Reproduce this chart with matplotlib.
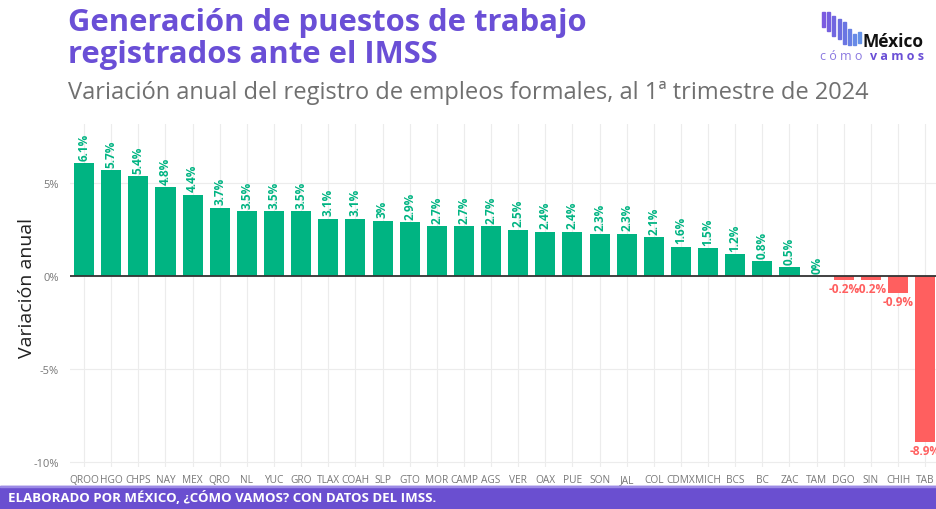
import matplotlib
matplotlib.use("Agg")
import matplotlib.pyplot as plt
from matplotlib.patches import Rectangle
from matplotlib.ticker import FuncFormatter

states = ["QROO", "HGO", "CHPS", "NAY", "MEX", "QRO", "NL", "YUC", "GRO", "TLAX",
          "COAH", "SLP", "GTO", "MOR", "CAMP", "AGS", "VER", "OAX", "PUE", "SON",
          "JAL", "COL", "CDMX", "MICH", "BCS", "BC", "ZAC", "TAM", "DGO", "SIN",
          "CHIH", "TAB"]
values = [6.1, 5.7, 5.4, 4.8, 4.4, 3.7, 3.5, 3.5, 3.5, 3.1,
          3.1, 3.0, 2.9, 2.7, 2.7, 2.7, 2.5, 2.4, 2.4, 2.3,
          2.3, 2.1, 1.6, 1.5, 1.2, 0.8, 0.5, 0.0, -0.2, -0.2,
          -0.9, -8.9]
yticks = [-10, -5, 0, 5]

title = "Generación de puestos de trabajo\nregistrados ante el IMSS"
subtitle = "Variación anual del registro de empleos formales, al 1ª trimestre de 2024"
ylabel = "Variación anual"
footer = "ELABORADO POR MÉXICO, ¿CÓMO VAMOS? CON DATOS DEL IMSS."

GREEN = "#00B482"
RED = "#FF5F5F"
PURPLE = "#6A4FD6"
FOOT = "#6A4FD0"

plt.rcParams["font.family"] = ["Open Sans", "DejaVu Sans"]

W, H = 936, 510
fig = plt.figure(figsize=(W / 100, H / 100), dpi=100)

ax = fig.add_axes([70 / W, 1 - 468 / H, 866 / W, (468 - 125) / H])
x = list(range(len(states)))
colors = [GREEN if v >= 0 else RED for v in values]
ax.bar(x, values, width=0.74, color=colors, zorder=2)
ax.set_xlim(-0.52, 31.4)
ax.set_ylim(-10.27, 8.2)

def fmt(v):
    return f"{v:g}%"

for xi, v in zip(x, values):
    if v >= 0:
        ax.annotate(fmt(v), (xi, v), xytext=(0, 2.5), textcoords="offset points",
                    rotation=90, ha="center", va="bottom", color=GREEN,
                    fontsize=8.5, fontweight="bold", zorder=3)
    else:
        ax.annotate(fmt(v), (xi, v), xytext=(0, -1.5), textcoords="offset points",
                    ha="center", va="top", color=RED,
                    fontsize=8.5, fontweight="bold", zorder=3)

ax.set_xticks(x)
ax.set_xticklabels(states, fontsize=7.3, color="#777777")
ax.set_yticks(yticks)
ax.yaxis.set_major_formatter(FuncFormatter(lambda v, p: f"{v:g}%"))
ax.tick_params(axis="y", labelsize=8, colors="#777777", length=0, pad=8)
ax.tick_params(axis="x", length=0, pad=5)
ax.grid(True, color="#ECECEC", linewidth=0.8, zorder=0)
ax.axhline(0, color="#333333", linewidth=1.3, zorder=4)
for s in ax.spines.values():
    s.set_visible(False)

fig.text(27 / W, 1 - 288 / H, ylabel, fontsize=14, color="#222222",
         rotation=90, ha="center", va="center")

fig.text(68 / W, 1 - 8 / H, title, fontsize=22.3, fontweight="bold", color=PURPLE,
         ha="left", va="top", linespacing=1.1)
fig.text(68 / W, 1 - 93 / H, subtitle, fontsize=17, color="#707070",
         ha="left", va="center")

# footer band
fig.patches.append(Rectangle((0, 0), 1, 23 / H, transform=fig.transFigure,
                             color=FOOT, zorder=0))
fig.patches.append(Rectangle((0, 22 / H), 1, 1.5 / H, transform=fig.transFigure,
                             color="#9C8AE6", zorder=1))
fig.text(8 / W, 11.5 / H, footer, fontsize=9.5, fontweight="bold", color="white",
         ha="left", va="center")

# logo
bars = [(822, 13, 28), (827, 13, 32), (832, 17, 37), (838, 20, 40),
        (843, 23, 45), (848, 30, 46), (853, 35, 46), (858, 33, 44)]
bcols = ["#7B5BE0", "#7660DF", "#7166E0", "#6C6DE0", "#6A75E2", "#6880E4", "#678AE6", "#6592E8"]
for (bx, y0, y1), c in zip(bars, bcols):
    fig.patches.append(Rectangle((bx / W, 1 - y1 / H), 3 / W, (y1 - y0) / H,
                                 transform=fig.transFigure, color=c))
fig.text(862 / W, 1 - 42 / H, "México", fontsize=12.5, fontweight="bold",
         color="#111111", ha="left", va="center")
fig.text(820 / W, 1 - 56 / H, "c ó m o", fontsize=9, color="#8A78E0",
         ha="left", va="center")
fig.text(870 / W, 1 - 56 / H, "v a m o s", fontsize=9, fontweight="bold",
         color="#6A4FD6", ha="left", va="center")

fig.savefig("out.png", dpi=100)
